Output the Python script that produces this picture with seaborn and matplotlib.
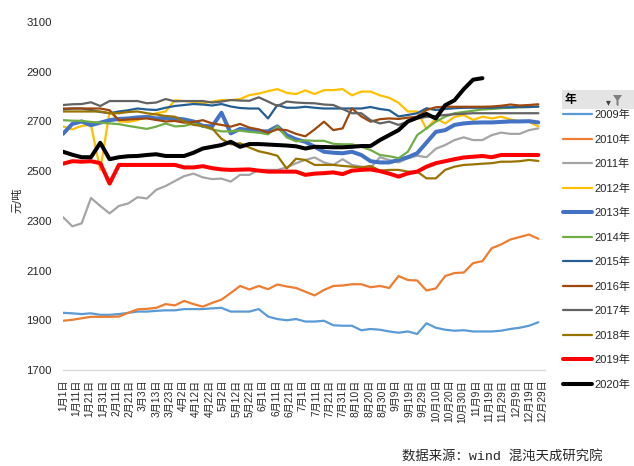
import numpy as np
import pandas as pd
import matplotlib
matplotlib.use("Agg")
import matplotlib.pyplot as plt
from matplotlib.lines import Line2D
from matplotlib.patches import Rectangle, Polygon
import seaborn as sns

# ---------------- data ----------------
years = ["2009年", "2010年", "2011年", "2012年", "2013年", "2014年",
         "2015年", "2016年", "2017年", "2018年", "2019年", "2020年"]

tick_labels = ["1月1日", "1月11日", "1月21日", "1月31日", "2月11日", "2月21日",
               "3月3日", "3月13日", "3月23日", "4月2日", "4月12日", "4月22日",
               "5月2日", "5月12日", "5月22日", "6月1日", "6月11日", "6月21日",
               "7月1日", "7月11日", "7月21日", "7月31日", "8月10日", "8月20日",
               "8月30日", "9月9日", "9月19日", "9月29日", "10月10日", "10月20日",
               "10月30日", "11月9日", "11月19日", "11月29日", "12月9日", "12月19日",
               "12月29日"]

# weekly observation day (days from 1月1日)
obs_day = [0, 7, 14, 21, 28, 35, 42, 49, 56, 63, 70, 77, 84, 91, 98, 105, 112,
           119, 126, 133, 140, 147, 154, 161, 168, 175, 182, 189, 196, 203, 210,
           217, 224, 231, 238, 245, 252, 259, 266, 273, 280, 287, 294, 301, 308,
           315, 322, 329, 336, 343, 350, 357]

p2009 = [1930, 1928, 1925, 1928, 1922, 1922, 1925, 1930, 1935, 1935, 1938, 1940,
         1940, 1945, 1945, 1945, 1948, 1950, 1935, 1935, 1935, 1945, 1915, 1905,
         1900, 1905, 1895, 1895, 1898, 1880, 1878, 1878, 1860, 1865, 1862, 1855,
         1850, 1855, 1845, 1888, 1870, 1862, 1858, 1860, 1855, 1855, 1855, 1858,
         1865, 1870, 1878, 1892]
p2010 = [1898, 1902, 1908, 1914, 1914, 1914, 1915, 1930, 1944, 1946, 1950, 1965,
         1960, 1978, 1965, 1955, 1970, 1983, 2010, 2038, 2024, 2038, 2025, 2044,
         2036, 2030, 2015, 2000, 2022, 2038, 2040, 2045, 2045, 2033, 2038, 2030,
         2078, 2062, 2060, 2020, 2028, 2078, 2090, 2092, 2130, 2138, 2190, 2205,
         2225, 2235, 2245, 2228]
p2011 = [2315, 2278, 2290, 2392, 2360, 2330, 2360, 2370, 2395, 2390, 2425, 2440,
         2460, 2480, 2490, 2475, 2468, 2470, 2458, 2485, 2485, 2505, 2505, 2505,
         2515, 2532, 2545, 2555, 2535, 2525, 2548, 2525, 2518, 2513, 2556, 2545,
         2535, 2552, 2562, 2556, 2590, 2605, 2625, 2636, 2625, 2625, 2645, 2655,
         2650, 2650, 2665, 2672]
p2012 = [2680, 2668, 2682, 2686, 2505, 2740, 2700, 2698, 2705, 2720, 2733, 2740,
         2785, 2782, 2778, 2773, 2780, 2786, 2786, 2790, 2806, 2812, 2822, 2830,
         2815, 2810, 2825, 2810, 2826, 2826, 2830, 2805, 2820, 2820, 2805, 2795,
         2775, 2740, 2740, 2670, 2712, 2692, 2718, 2726, 2706, 2719, 2712, 2719,
         2708, 2700, 2698, 2680]
p2013 = [2650, 2690, 2700, 2685, 2695, 2705, 2710, 2712, 2716, 2718, 2712, 2714,
         2712, 2708, 2700, 2682, 2680, 2735, 2652, 2670, 2665, 2660, 2660, 2680,
         2645, 2628, 2618, 2598, 2578, 2574, 2572, 2578, 2565, 2540, 2535, 2535,
         2545, 2556, 2572, 2615, 2658, 2665, 2686, 2692, 2695, 2696, 2696, 2698,
         2700, 2700, 2701, 2696]
p2014 = [2705, 2703, 2702, 2698, 2695, 2692, 2689, 2682, 2676, 2670, 2679, 2692,
         2680, 2682, 2692, 2680, 2668, 2660, 2660, 2663, 2658, 2655, 2648, 2680,
         2636, 2620, 2624, 2622, 2622, 2610, 2608, 2608, 2598, 2585, 2565, 2560,
         2552, 2578, 2645, 2672, 2699, 2719, 2733, 2738, 2743, 2748, 2750, 2753,
         2755, 2757, 2758, 2759]
p2015 = [2748, 2752, 2752, 2746, 2738, 2733, 2740, 2745, 2752, 2748, 2746, 2755,
         2762, 2766, 2770, 2768, 2764, 2770, 2760, 2754, 2752, 2752, 2712, 2766,
         2755, 2755, 2759, 2755, 2752, 2752, 2752, 2752, 2752, 2758, 2750, 2745,
         2720, 2726, 2733, 2753, 2746, 2750, 2753, 2755, 2755, 2755, 2755, 2757,
         2757, 2758, 2758, 2760]
p2016 = [2752, 2752, 2752, 2752, 2752, 2745, 2705, 2708, 2710, 2712, 2706, 2700,
         2702, 2695, 2698, 2705, 2692, 2686, 2679, 2690, 2675, 2668, 2655, 2668,
         2665, 2650, 2640, 2668, 2699, 2665, 2672, 2753, 2720, 2699, 2709, 2712,
         2710, 2715, 2719, 2746, 2757, 2759, 2759, 2759, 2759, 2759, 2760, 2763,
         2768, 2764, 2766, 2769]
p2017 = [2766, 2769, 2770, 2777, 2762, 2782, 2782, 2782, 2782, 2773, 2776, 2790,
         2781, 2782, 2782, 2782, 2776, 2780, 2786, 2784, 2783, 2797, 2780, 2762,
         2780, 2776, 2774, 2773, 2768, 2766, 2750, 2733, 2733, 2705, 2692, 2699,
         2686, 2699, 2712, 2718, 2722, 2726, 2729, 2731, 2733, 2733, 2733, 2733,
         2733, 2733, 2733, 2733]
p2018 = [2740, 2740, 2740, 2740, 2740, 2733, 2733, 2738, 2740, 2733, 2728, 2722,
         2719, 2700, 2686, 2682, 2672, 2630, 2608, 2612, 2595, 2580, 2572, 2562,
         2510, 2550, 2545, 2525, 2525, 2525, 2521, 2518, 2515, 2521, 2502, 2505,
         2505, 2498, 2498, 2471, 2471, 2505, 2518, 2525, 2527, 2530, 2532, 2538,
         2538, 2540, 2545, 2541]
p2019 = [2530, 2540, 2538, 2540, 2532, 2450, 2525, 2525, 2525, 2525, 2525, 2525,
         2525, 2515, 2515, 2520, 2512, 2507, 2505, 2506, 2507, 2502, 2498, 2498,
         2498, 2498, 2485, 2490, 2492, 2495, 2488, 2502, 2505, 2507, 2500, 2490,
         2478, 2491, 2498, 2518, 2532, 2540, 2548, 2555, 2558, 2561, 2556, 2565,
         2565, 2565, 2565, 2565]
p2020 = [2578, 2566, 2556, 2556, 2614, 2548, 2556, 2560, 2561, 2565, 2568, 2561,
         2561, 2561, 2574, 2591, 2598, 2605, 2618, 2598, 2609, 2609, 2607, 2605,
         2603, 2600, 2591, 2598, 2597, 2596, 2596, 2598, 2601, 2601, 2625, 2645,
         2665, 2700, 2715, 2730, 2712, 2765, 2785, 2830, 2868, 2874]

series = [p2009, p2010, p2011, p2012, p2013, p2014,
          p2015, p2016, p2017, p2018, p2019, p2020]

colors = ["#5B9BD5", "#ED7D31", "#A5A5A5", "#FFC000", "#4472C4", "#70AD47",
          "#255E91", "#9E480E", "#636363", "#997300", "#FF0000", "#000000"]
widths = [1.6, 1.6, 1.6, 1.6, 2.9, 1.6, 1.6, 1.6, 1.6, 1.6, 2.9, 2.9]

rows = []
for yr, vals in zip(years, series):
    for d, v in zip(obs_day, vals):
        rows.append({"day": d, "price": v, "year": yr})
df = pd.DataFrame(rows)

# ---------------- figure ----------------
sns.set_theme(style="white")
plt.rcParams["font.family"] = ["Liberation Sans", "Noto Sans CJK SC"]
plt.rcParams["axes.unicode_minus"] = False

fig = plt.figure(figsize=(6.34, 4.66), dpi=100)
W, H = 634, 466
ax = fig.add_axes([63 / W, 1 - 370 / H, (545 - 63) / W, (370 - 22) / H])

sns.lineplot(data=df, x="day", y="price", hue="year", hue_order=years,
             palette=dict(zip(years, colors)), size="year", size_order=years,
             sizes=dict(zip(years, widths)), legend=False, sort=False,
             estimator=None, ax=ax)
for ln in ax.lines:
    ln.set_solid_joinstyle("round")
    ln.set_solid_capstyle("round")

ax.set_xlim(0, 362)
ax.set_ylim(1700, 3100)
ax.set_yticks(np.arange(1700, 3101, 200))
ax.set_yticklabels([str(v) for v in range(1700, 3101, 200)], fontsize=8.2,
                   color="#262626")
ax.set_xticks([10 * i for i in range(len(tick_labels))])
ax.set_xticklabels(tick_labels, rotation=90, fontsize=7.3, color="#262626")
ax.tick_params(axis="both", length=0)
ax.tick_params(axis="y", pad=8)
ax.tick_params(axis="x", pad=7)
ax.set_xlabel("")
ax.set_ylabel("")
ax.grid(False)
for s in ["top", "right", "left"]:
    ax.spines[s].set_visible(False)
ax.spines["bottom"].set_color("#D9D9D9")
ax.spines["bottom"].set_linewidth(1.0)

fig.text(17 / W, 1 - 200 / H, "元/吨", rotation=90, ha="center", va="center",
         fontsize=8, color="#262626")

# legend
handles = [Line2D([0], [0], color=c, lw=w) for c, w in zip(colors, widths)]
leg = ax.legend(handles, years, loc="upper left",
                bbox_to_anchor=(563 / W, 1 - 110 / H),
                bbox_transform=fig.transFigure, frameon=False, fontsize=8,
                handlelength=2.6, handletextpad=0.25, labelspacing=1.27,
                borderaxespad=0, borderpad=0)
for t in leg.get_texts():
    t.set_color("#262626")

# legend header (field button)
fig.patches.append(Rectangle((562 / W, 1 - 109 / H), (634 - 562) / W, 19 / H,
                             transform=fig.transFigure, facecolor="#E4E4E4",
                             edgecolor="none", zorder=0))
fig.text(565 / W, 1 - 100 / H, "年", fontsize=8.5, fontweight="bold",
         ha="left", va="center", color="#000000")
fig.text(608 / W, 1 - 102 / H, "▾", fontsize=7, ha="center", va="center",
         color="#404040", family=["DejaVu Sans"])
fig.patches.append(Polygon([(613 / W, 1 - 95 / H), (622 / W, 1 - 95 / H),
                            (618.5 / W, 1 - 100 / H), (618.5 / W, 1 - 106 / H),
                            (616.5 / W, 1 - 105 / H), (616.5 / W, 1 - 100 / H)],
                           closed=True, transform=fig.transFigure,
                           facecolor="#7F7F7F", edgecolor="none"))

fig.text(603 / W, 1 - 457 / H, "数据来源：wind 混沌天成研究院", fontsize=9.6,
         ha="right", va="center", color="#262626",
         family=["Liberation Mono", "Noto Sans CJK SC"])

fig.savefig("out.png", dpi=100)
